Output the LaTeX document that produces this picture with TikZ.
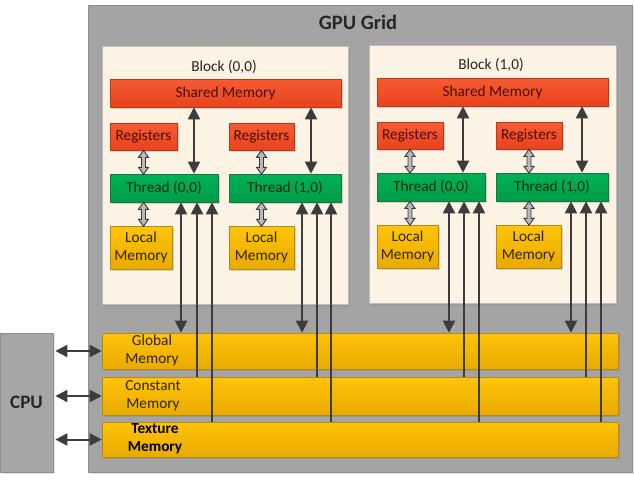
\documentclass[tikz,border=0pt]{standalone}
\usepackage{fontspec}
\setmainfont{Carlito}
\usetikzlibrary{arrows.meta,shadows}
\definecolor{gridfill}{HTML}{A4A4A4}
\definecolor{griddraw}{HTML}{8E8E8E}
\definecolor{blockfill}{HTML}{FCF3E4}
\definecolor{blockdraw}{HTML}{BDBDBD}
\definecolor{redt}{HTML}{F65B33}
\definecolor{redb}{HTML}{E8431D}
\definecolor{redd}{HTML}{B8391C}
\definecolor{redtext}{HTML}{4A0E03}
\definecolor{grnt}{HTML}{00B257}
\definecolor{grnb}{HTML}{009C47}
\definecolor{grnd}{HTML}{137A3C}
\definecolor{grntext}{HTML}{082C14}
\definecolor{goldt}{HTML}{FFC40A}
\definecolor{goldb}{HTML}{E8AA00}
\definecolor{goldd}{HTML}{B58A10}
\definecolor{goldtext}{HTML}{302400}
\definecolor{arr}{HTML}{3C3C3C}
\definecolor{cpufill}{HTML}{A6A6A6}
\begin{document}
\begin{tikzpicture}[x=1pt,y=-1pt,
  txt/.style={font=\fontsize{15.3}{18}\selectfont},
  box/.style={line width=0.6pt, inner sep=0pt, anchor=center, align=center,
    drop shadow={shadow xshift=1.5pt,shadow yshift=-1.5pt,opacity=0.3}, txt},
  redbox/.style={box, draw=redd, top color=redt, bottom color=redb, text=redtext},
  grnbox/.style={box, draw=grnd, top color=grnt, bottom color=grnb, text=grntext},
  goldbox/.style={box, draw=goldd, top color=goldt, bottom color=goldb, text=goldtext},
  big/.style={draw=arr, line width=2pt},
  tip/.tip={Triangle[width=12pt,length=12pt]},
  udarr/.pic={\draw[draw=gray!45!black, fill=gray!55, line width=0.9pt]
     (0,0) -- (5,7) -- (2,7) -- (2,17) -- (5,17) -- (0,24) -- (-5,17) -- (-2,17)
     -- (-2,7) -- (-5,7) -- cycle;}
]
\useasboundingbox (0,0) rectangle (634,482);
% grid
\node[draw=griddraw, fill=gridfill, line width=0.8pt, minimum width=544, minimum height=467,
  drop shadow={shadow xshift=1.5pt,shadow yshift=-1.5pt,opacity=0.2}] (grid) at (360,238.5) {};
\node[font=\bfseries\fontsize{20.5}{24}\selectfont, text=black!85] (title) at (358,22) {GPU Grid};
% blocks
\node[draw=blockdraw, fill=blockfill, line width=0.8pt, minimum width=246, minimum height=258,
  drop shadow={shadow xshift=2pt,shadow yshift=-2pt,opacity=0.25}] (blk0) at (225,175.5) {};
\node[draw=blockdraw, fill=blockfill, line width=0.8pt, minimum width=247, minimum height=258,
  drop shadow={shadow xshift=2pt,shadow yshift=-2pt,opacity=0.25}] (blk1) at (492.5,174.5) {};
\node[txt, text=black!85] (b0t) at (224,67) {Block (0,0)};
\node[txt, text=black!85] (b1t) at (491,65) {Block (1,0)};
% shared
\node[redbox, minimum width=231, minimum height=28] (sm0) at (225.5,93) {Shared Memory};
\node[redbox, minimum width=231, minimum height=28] (sm1) at (492.5,92) {Shared Memory};
% registers
\node[redbox, minimum width=67, minimum height=27] (reg00) at (143.5,136.5) {Registers};
\node[redbox, minimum width=65, minimum height=27] (reg01) at (261.5,136.5) {Registers};
\node[redbox, minimum width=66, minimum height=27] (reg10) at (410,135.5) {Registers};
\node[redbox, minimum width=66, minimum height=27] (reg11) at (529,135.5) {Registers};
% threads
\node[grnbox, minimum width=108, minimum height=28] (th00) at (164,188) {Thread (0,0)};
\node[grnbox, minimum width=112, minimum height=28] (th01) at (285,188) {Thread (1,0)};
\node[grnbox, minimum width=108, minimum height=28] (th10) at (431,187) {Thread (0,0)};
\node[grnbox, minimum width=112, minimum height=28] (th11) at (552,187) {Thread (1,0)};
% local
\node[goldbox, minimum width=62, minimum height=43] (lm00) at (141,247.5) {Local\\Memory};
\node[goldbox, minimum width=65, minimum height=43] (lm01) at (261.5,247.5) {Local\\Memory};
\node[goldbox, minimum width=61, minimum height=43] (lm10) at (407.5,246.5) {Local\\Memory};
\node[goldbox, minimum width=65, minimum height=43] (lm11) at (528.5,246.5) {Local\\Memory};
% memory bars
\node[goldbox, minimum width=516, minimum height=36] (global) at (360,351) {};
\node[goldbox, minimum width=516, minimum height=38] (constant) at (360,396) {};
\node[goldbox, minimum width=516, minimum height=35] (texture) at (360,439.5) {};
\node[txt, align=center, text=goldtext] (glab) at (152,350) {Global\\Memory};
\node[txt, align=center, text=goldtext] (clab) at (153,396) {Constant\\Memory};
\node[txt, align=center, font=\bfseries\fontsize{15.3}{18}\selectfont, text=black] (tlab) at (155,439) {Texture\\Memory};
% CPU
\node[draw=griddraw, fill=cpufill, line width=0.8pt, minimum width=53, minimum height=139,
  font=\bfseries\fontsize{19}{22}\selectfont, text=black!85,
  drop shadow={shadow xshift=1.5pt,shadow yshift=-1.5pt,opacity=0.2}] (cpu) at (26.5,402.5) {CPU};
% register/local hollow arrows
\foreach \r/\l in {reg00/lm00,reg01/lm01,reg10/lm10,reg11/lm11}{
  \pic at (\r.south) {udarr};
}
\foreach \r/\t in {reg00/th00,reg01/th01,reg10/th10,reg11/th11}{
  \pic at (\r.south |- \t.south) {udarr};
}
% thread <-> shared
\foreach \x/\t/\s in {194/th00/sm0,311/th01/sm0,463/th10/sm1,582/th11/sm1}{
  \coordinate (cs) at (\x,0);
  \draw[big,tip-tip] (cs |- \s.south) -- (cs |- \t.north);
}
% thread -> memories
\foreach \t/\a/\b/\c in {th00/181/197/212, th01/302/317/331, th10/449/464/479, th11/571/586/601}{
  \coordinate (ca) at (\a,0);
  \coordinate (cb) at (\b,0);
  \coordinate (cc) at (\c,0);
  \draw[big,tip-tip] (ca |- \t.south) -- (ca |- global.north);
  \draw[big,tip-] (cb |- \t.south) -- (cb |- constant.north);
  \draw[big,tip-] (cc |- \t.south) -- (cc |- texture.north);
}
% CPU arrows
\coordinate (ce) at ([xshift=2pt]cpu.east);
\foreach \m in {global,constant,texture}{
  \draw[big,tip-tip] (ce |- \m.west) -- (\m.west);
}
\end{tikzpicture}
\end{document}
